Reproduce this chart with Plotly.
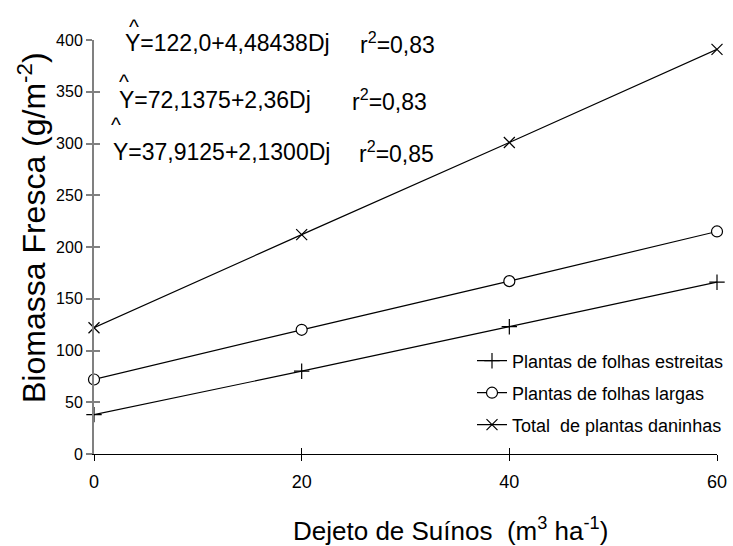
import plotly.graph_objects as go

doses = [0, 20, 40, 60]
estreitas = [38, 80, 123, 166]
largas = [72, 120, 167, 215]
total = [122, 212, 301, 391]

series_names = ["Plantas de folhas estreitas", "Plantas de folhas largas", "Total  de plantas daninhas"]
y_ticks = [0, 50, 100, 150, 200, 250, 300, 350, 400]
x_ticks = [0, 20, 40, 60]

equations = ["Y=122,0+4,48438Dj", "Y=72,1375+2,36Dj", "Y=37,9125+2,1300Dj"]
r2_texts = ["r<sup>2</sup>=0,83", "r<sup>2</sup>=0,83", "r<sup>2</sup>=0,85"]
x_title = "Dejeto de Suínos  (m<sup>3</sup> ha<sup>-1</sup>)"
y_title = "Biomassa Fresca (g/m<sup>-2</sup>)"

FONT = "Liberation Sans, Arial, sans-serif"
L, R, T, B = 94, 3, 40, 92
W, H = 733, 546
PW = W - L - R
X_END = 717  # pixel where x = 60 sits


def px(xpix):
    return (xpix - L) / PW


def py(ypix):
    return (H - B - ypix) / (H - T - B)


fig = go.Figure()
markers = [
    dict(symbol="cross-thin", size=11, color="black", line=dict(color="black", width=1.2)),
    dict(symbol="circle", size=11, color="white", line=dict(color="black", width=1.2)),
    dict(symbol="x-thin", size=11, color="black", line=dict(color="black", width=1.2)),
]
legend_ids = ["legend", "legend2", "legend3"]
for name, vals, mk, lg in zip(series_names, [estreitas, largas, total], markers, legend_ids):
    fig.add_trace(go.Scatter(
        x=doses, y=vals, name=name, mode="lines+markers", legend=lg,
        line=dict(color="black", width=1.2), marker=mk, cliponaxis=False,
    ))

# invisible trace to drive overlaid axes for crossing ticks
fig.add_trace(go.Scatter(x=doses, y=total, xaxis="x2", yaxis="y2", mode="markers",
                         marker=dict(opacity=0), showlegend=False, hoverinfo="skip"))

dom = [0, px(X_END)]
legend_rows = [361, 393, 425]
legend_common = dict(font=dict(size=18, family=FONT), bgcolor="rgba(0,0,0,0)",
                     xanchor="left", yanchor="middle", itemwidth=30)

fig.update_layout(
    width=W, height=H,
    margin=dict(l=L, r=R, t=T, b=B),
    paper_bgcolor="white", plot_bgcolor="white",
    font=dict(family=FONT, color="black"),
    showlegend=True,
    legend=dict(x=px(472), y=py(legend_rows[0]), **legend_common),
    legend2=dict(x=px(472), y=py(legend_rows[1]), **legend_common),
    legend3=dict(x=px(472), y=py(legend_rows[2]), **legend_common),
    xaxis=dict(domain=dom, range=[0, 60], tickvals=x_ticks, ticks="outside", ticklen=6, tickcolor="black",
               showline=True, linecolor="black", linewidth=1, showgrid=False, zeroline=False,
               tickfont=dict(size=18), ticklabelstandoff=5, automargin=False),
    yaxis=dict(range=[0, 400], tickvals=y_ticks, ticks="outside", ticklen=6, tickcolor="#808080",
               tickwidth=1.5, showline=True, linecolor="#808080", linewidth=2, showgrid=False,
               zeroline=False, tickfont=dict(size=16), automargin=False),
    xaxis2=dict(domain=dom, range=[0, 60], tickvals=x_ticks, ticks="inside", ticklen=6, tickcolor="black",
                overlaying="x", side="bottom", showticklabels=False, showgrid=False,
                zeroline=False, showline=False),
    yaxis2=dict(range=[0, 400], tickvals=y_ticks, ticks="inside", ticklen=6, tickcolor="#808080",
                tickwidth=1.5, overlaying="y", side="left", showticklabels=False, showgrid=False,
                zeroline=False, showline=False),
)

# axis titles
fig.add_annotation(x=px(450), y=py(529), xref="paper", yref="paper", text=x_title,
                   showarrow=False, xanchor="center", yanchor="middle", font=dict(size=26))
fig.add_annotation(x=px(32), y=py(228), xref="paper", yref="paper", text=y_title, textangle=-90,
                   showarrow=False, xanchor="center", yanchor="middle", font=dict(size=32))

eq_x = [123, 117, 111]
eq_y = [43, 100, 152]
r2_x = [358, 350, 357]
hat_x = [134, 124, 116]
hat_y = [26, 81, 124]
for i in range(3):
    fig.add_annotation(x=px(eq_x[i]), y=py(eq_y[i]), xref="paper", yref="paper", text=equations[i],
                       showarrow=False, xanchor="left", yanchor="middle", font=dict(size=23))
    fig.add_annotation(x=px(r2_x[i]), y=py(eq_y[i]), xref="paper", yref="paper", text=r2_texts[i],
                       showarrow=False, xanchor="left", yanchor="middle", font=dict(size=23))
    fig.add_annotation(x=px(hat_x[i]), y=py(hat_y[i]), xref="paper", yref="paper", text="^",
                       showarrow=False, xanchor="center", yanchor="middle", font=dict(size=21))

fig.write_html("out.html")
